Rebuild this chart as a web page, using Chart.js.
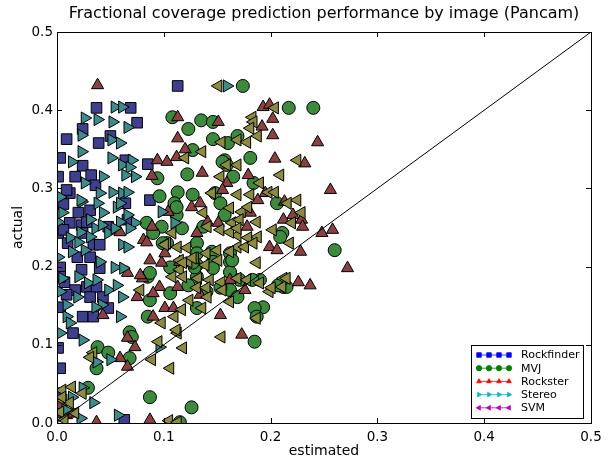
<!DOCTYPE html>
<html>
<head>
<meta charset="utf-8">
<script src="https://cdn.jsdelivr.net/npm/chart.js@4.4.0/dist/chart.umd.min.js"></script>
<style>
  html, body { margin: 0; padding: 0; background: #fff; }
  #wrap { width: 616px; height: 463px; }
</style>
</head>
<body>
<div id="wrap"><canvas id="scatter"></canvas></div>
<script>
// Chart text
const chartTitle = 'Fractional coverage prediction performance by image (Pancam)';
const xLabel = 'estimated';
const yLabel = 'actual';
const tickValues = [0.0, 0.1, 0.2, 0.3, 0.4, 0.5];

// Series names, in legend order
const seriesNames = ['Rockfinder', 'MVJ', 'Rockster', 'Stereo', 'SVM'];

// [estimated, actual] per image
const rockfinder = [
    [0.113, 0.431], [0.037, 0.403], [0.069, 0.403], [0.075, 0.384], [0.009, 0.363], [0.024, 0.376],
    [0.039, 0.358], [0.050, 0.367], [0.003, 0.339], [0.024, 0.329], [0.017, 0.315], [0.032, 0.317],
    [0.001, 0.315], [0.036, 0.304], [0.064, 0.336], [0.085, 0.331], [0.012, 0.294], [0.006, 0.280],
    [0.020, 0.269], [0.031, 0.272], [0.064, 0.281], [0.012, 0.256], [0.023, 0.253], [0.001, 0.243],
    [0.048, 0.251], [0.066, 0.260], [0.087, 0.285], [0.009, 0.298], [0.028, 0.257], [0.006, 0.247],
    [0.024, 0.243], [0.010, 0.230], [0.034, 0.228], [0.040, 0.228], [0.019, 0.212], [0.031, 0.212],
    [0.003, 0.199], [0.023, 0.196], [0.040, 0.198], [0.007, 0.180], [0.017, 0.170], [0.028, 0.174],
    [0.037, 0.174], [0.009, 0.164], [0.031, 0.161], [0.043, 0.161], [0.003, 0.187], [0.003, 0.148],
    [0.024, 0.136], [0.034, 0.136], [0.048, 0.147], [0.015, 0.115], [0.001, 0.096], [0.003, 0.070],
    [0.002, 0.038], [0.003, 0.014], [0.063, 0.004]
];
const mvj = [
    [0.108, 0.391], [0.135, 0.387], [0.123, 0.376], [0.146, 0.385], [0.146, 0.363], [0.160, 0.358],
    [0.169, 0.367], [0.181, 0.339], [0.157, 0.336], [0.159, 0.330], [0.122, 0.318], [0.165, 0.315],
    [0.184, 0.307], [0.217, 0.403], [0.240, 0.403], [0.113, 0.295], [0.096, 0.290], [0.127, 0.292],
    [0.148, 0.294], [0.110, 0.281], [0.153, 0.281], [0.112, 0.266], [0.157, 0.266], [0.206, 0.281],
    [0.098, 0.251], [0.137, 0.251], [0.211, 0.243], [0.090, 0.243], [0.127, 0.349], [0.094, 0.313],
    [0.084, 0.256], [0.117, 0.249], [0.155, 0.334], [0.085, 0.187], [0.103, 0.230], [0.131, 0.230],
    [0.131, 0.217], [0.131, 0.202], [0.131, 0.187], [0.145, 0.219], [0.146, 0.206], [0.162, 0.217],
    [0.162, 0.206], [0.162, 0.193], [0.162, 0.170], [0.153, 0.173], [0.123, 0.176], [0.140, 0.168],
    [0.112, 0.276], [0.209, 0.238], [0.212, 0.174], [0.190, 0.183], [0.183, 0.183], [0.171, 0.183],
    [0.193, 0.148], [0.087, 0.157], [0.106, 0.166], [0.164, 0.208], [0.146, 0.198], [0.129, 0.199],
    [0.131, 0.147], [0.169, 0.161], [0.185, 0.147], [0.187, 0.136], [0.207, 0.176], [0.215, 0.174],
    [0.260, 0.221], [0.185, 0.104], [0.126, 0.020], [0.115, 0.001], [0.087, 0.033], [0.099, 0.230],
    [0.106, 0.199], [0.127, 0.205], [0.085, 0.136], [0.068, 0.116], [0.070, 0.110], [0.038, 0.097],
    [0.048, 0.090], [0.068, 0.083], [0.037, 0.070], [0.029, 0.045], [0.087, 0.192], [0.174, 0.431]
];
const rockster = [
    [0.038, 0.432], [0.113, 0.391], [0.113, 0.364], [0.120, 0.350], [0.094, 0.336], [0.103, 0.334],
    [0.112, 0.340], [0.089, 0.316], [0.104, 0.270], [0.126, 0.276], [0.059, 0.244], [0.131, 0.243],
    [0.089, 0.251], [0.151, 0.385], [0.193, 0.404], [0.199, 0.407], [0.202, 0.389], [0.192, 0.379],
    [0.202, 0.368], [0.136, 0.320], [0.179, 0.317], [0.204, 0.338], [0.232, 0.332], [0.244, 0.359],
    [0.159, 0.307], [0.256, 0.298], [0.195, 0.294], [0.155, 0.298], [0.134, 0.281], [0.188, 0.285],
    [0.213, 0.283], [0.181, 0.269], [0.221, 0.266], [0.229, 0.260], [0.141, 0.257], [0.178, 0.251],
    [0.248, 0.243], [0.258, 0.247], [0.230, 0.251], [0.151, 0.256], [0.212, 0.260], [0.199, 0.225],
    [0.206, 0.221], [0.228, 0.219], [0.087, 0.208], [0.080, 0.185], [0.075, 0.161], [0.098, 0.205],
    [0.113, 0.174], [0.134, 0.164], [0.162, 0.183], [0.176, 0.170], [0.226, 0.180], [0.237, 0.176],
    [0.081, 0.234], [0.115, 0.206], [0.096, 0.174], [0.090, 0.166], [0.272, 0.198], [0.101, 0.147],
    [0.109, 0.147], [0.153, 0.138], [0.173, 0.113], [0.087, 0.004], [0.090, 0.136], [0.084, 0.231],
    [0.101, 0.217], [0.066, 0.192], [0.078, 0.189], [0.043, 0.138], [0.066, 0.109], [0.073, 0.097],
    [0.059, 0.083], [0.066, 0.072], [0.037, 0.001], [0.009, 0.010], [0.015, 0.012], [0.003, 0.023]
];
const stereo = [
    [0.054, 0.404], [0.061, 0.404], [0.026, 0.390], [0.038, 0.388], [0.052, 0.385], [0.066, 0.378],
    [0.023, 0.368], [0.051, 0.362], [0.059, 0.358], [0.023, 0.347], [0.014, 0.334], [0.051, 0.339],
    [0.070, 0.336], [0.061, 0.330], [0.068, 0.327], [0.073, 0.315], [0.064, 0.317], [0.043, 0.315],
    [0.026, 0.307], [0.003, 0.289], [0.040, 0.294], [0.052, 0.295], [0.061, 0.294], [0.066, 0.295],
    [0.023, 0.283], [0.038, 0.281], [0.043, 0.269], [0.056, 0.276], [0.066, 0.266], [0.031, 0.260],
    [0.036, 0.249], [0.048, 0.243], [0.059, 0.257], [0.073, 0.256], [0.005, 0.269], [0.098, 0.270],
    [0.110, 0.256], [0.022, 0.285], [0.059, 0.281], [0.001, 0.257], [0.022, 0.244], [0.042, 0.253],
    [0.054, 0.249], [0.068, 0.249], [0.012, 0.237], [0.020, 0.231], [0.031, 0.238], [0.061, 0.228],
    [0.066, 0.225], [0.001, 0.212], [0.014, 0.219], [0.026, 0.221], [0.040, 0.206], [0.054, 0.199],
    [0.062, 0.198], [0.005, 0.185], [0.020, 0.187], [0.029, 0.179], [0.037, 0.183], [0.048, 0.170],
    [0.056, 0.176], [0.003, 0.168], [0.019, 0.161], [0.042, 0.151], [0.061, 0.161], [0.009, 0.151],
    [0.036, 0.148], [0.009, 0.136], [0.012, 0.128], [0.059, 0.136], [0.003, 0.115], [0.024, 0.106],
    [0.037, 0.078], [0.050, 0.081], [0.024, 0.045], [0.034, 0.026], [0.057, 0.010], [0.014, 0.033],
    [0.096, 0.097], [0.159, 0.431], [0.008, 0.017], [0.022, 0.006]
];
const svm = [
    [0.151, 0.431], [0.204, 0.403], [0.183, 0.391], [0.184, 0.385], [0.181, 0.377], [0.188, 0.367],
    [0.154, 0.359], [0.169, 0.362], [0.178, 0.359], [0.136, 0.347], [0.120, 0.339], [0.225, 0.336],
    [0.159, 0.330], [0.169, 0.330], [0.153, 0.315], [0.209, 0.317], [0.190, 0.307], [0.198, 0.295],
    [0.204, 0.295], [0.145, 0.294], [0.169, 0.292], [0.181, 0.292], [0.225, 0.285], [0.216, 0.281],
    [0.137, 0.269], [0.162, 0.275], [0.173, 0.270], [0.187, 0.257], [0.229, 0.269], [0.220, 0.256],
    [0.141, 0.251], [0.153, 0.247], [0.164, 0.256], [0.202, 0.247], [0.108, 0.243], [0.169, 0.240],
    [0.171, 0.260], [0.179, 0.276], [0.162, 0.244], [0.169, 0.249], [0.188, 0.238], [0.179, 0.237],
    [0.169, 0.225], [0.176, 0.225], [0.184, 0.230], [0.218, 0.230], [0.103, 0.230], [0.113, 0.225],
    [0.122, 0.224], [0.150, 0.221], [0.140, 0.217], [0.162, 0.219], [0.115, 0.208], [0.123, 0.206],
    [0.129, 0.211], [0.151, 0.208], [0.139, 0.202], [0.187, 0.205], [0.115, 0.196], [0.108, 0.187],
    [0.118, 0.187], [0.132, 0.185], [0.143, 0.183], [0.154, 0.180], [0.169, 0.185], [0.178, 0.183],
    [0.212, 0.185], [0.078, 0.170], [0.131, 0.173], [0.140, 0.173], [0.155, 0.170], [0.199, 0.168],
    [0.124, 0.157], [0.162, 0.155], [0.141, 0.161], [0.136, 0.147], [0.117, 0.145], [0.110, 0.136],
    [0.098, 0.128], [0.113, 0.115], [0.154, 0.110], [0.118, 0.096], [0.095, 0.104], [0.089, 0.081],
    [0.106, 0.070], [0.105, 0.003], [0.113, 0.001], [0.187, 0.134], [0.201, 0.173], [0.211, 0.174],
    [0.215, 0.185], [0.190, 0.179], [0.101, 0.228], [0.118, 0.205], [0.127, 0.211], [0.112, 0.119],
    [0.034, 0.090], [0.031, 0.084], [0.005, 0.042], [0.014, 0.046], [0.024, 0.038], [0.006, 0.029],
    [0.012, 0.026], [0.003, 0.014], [0.007, 0.004], [0.017, 0.013], [0.005, 0.033]
];

// the y = x reference line
const diagonal = [[0.0, 0.0], [0.5, 0.5]];

const seriesData = [rockfinder, mvj, rockster, stereo, svm];
const markerColors = ['#3f3f8f', '#3c8a3c', '#8c4040', '#3c8c8c', '#8c8c40'];
const legendColors = ['#0000ff', '#008000', '#ff0000', '#00bfbf', '#bf00bf'];
const markerStyles = ['rect', 'circle', 'triangle', 'triangle', 'triangle'];
const markerRotation = [0, 0, 0, 90, -90];
const markerRadius = [7.5, 6.5, 7, 7, 7];

const toPoints = arr => arr.map(p => ({ x: p[0], y: p[1] }));

const datasets = seriesNames.map((name, i) => ({
    label: name,
    data: toPoints(seriesData[i]),
    pointStyle: markerStyles[i],
    rotation: markerRotation[i],
    pointRadius: markerRadius[i],
    pointHoverRadius: markerRadius[i],
    backgroundColor: markerColors[i],
    borderColor: '#000000',
    pointBorderWidth: 1,
    showLine: false,
    clip: 0,
    order: seriesNames.length - i
}));

datasets.push({
    type: 'line',
    label: 'y=x',
    data: toPoints(diagonal),
    borderColor: '#000000',
    borderWidth: 1,
    pointRadius: 0,
    fill: false,
    clip: 0,
    order: 0
});

// title centred over the plot area, as matplotlib does
const plotTitle = {
    id: 'plotTitle',
    afterDraw(chart) {
        const { ctx, chartArea: a } = chart;
        ctx.save();
        ctx.fillStyle = '#000';
        ctx.font = '16px "DejaVu Sans"';
        ctx.textAlign = 'center';
        ctx.textBaseline = 'middle';
        ctx.fillText(chartTitle, (a.left + a.right) / 2, 14);
        ctx.restore();
    }
};

// inward tick marks on all four sides, plus the frame
const frameTicks = {
    id: 'frameTicks',
    afterDatasetsDraw(chart) {
        const { ctx, chartArea: a, scales } = chart;
        ctx.save();
        ctx.strokeStyle = '#000';
        ctx.lineWidth = 1;
        ctx.strokeRect(a.left + 0.5, a.top + 0.5, a.right - a.left, a.bottom - a.top);
        ctx.beginPath();
        tickValues.forEach(v => {
            const x = Math.round(scales.x.getPixelForValue(v)) + 0.5;
            ctx.moveTo(x, a.bottom); ctx.lineTo(x, a.bottom - 5);
            ctx.moveTo(x, a.top); ctx.lineTo(x, a.top + 5);
            const y = Math.round(scales.y.getPixelForValue(v)) + 0.5;
            ctx.moveTo(a.left, y); ctx.lineTo(a.left + 5, y);
            ctx.moveTo(a.right, y); ctx.lineTo(a.right - 5, y);
        });
        ctx.stroke();
        ctx.restore();
    }
};

// matplotlib-like legend box: four small markers joined by a line
const markerLegend = {
    id: 'markerLegend',
    afterDraw(chart) {
        const { ctx, chartArea: a } = chart;
        const boxW = 112, boxH = 73, rowH = 13.2;
        const bx = a.right - 8 - boxW, by = a.bottom - 5 - boxH;
        ctx.save();
        ctx.fillStyle = '#fff';
        ctx.fillRect(bx, by, boxW, boxH);
        ctx.strokeStyle = '#000';
        ctx.lineWidth = 1;
        ctx.strokeRect(bx + 0.5, by + 0.5, boxW, boxH);
        ctx.font = '11px "DejaVu Sans"';
        ctx.textBaseline = 'middle';
        seriesNames.forEach((name, i) => {
            const y = by + 10 + i * rowH;
            const x0 = bx + 8, x1 = bx + 38;
            ctx.strokeStyle = legendColors[i];
            ctx.fillStyle = legendColors[i];
            ctx.lineWidth = 0.8;
            ctx.beginPath();
            ctx.moveTo(x0, y); ctx.lineTo(x1, y);
            ctx.stroke();
            for (let k = 0; k < 4; k++) {
                ctx.fillStyle = legendColors[i];
                ctx.strokeStyle = legendColors[i];
                Chart.helpers.drawPoint(ctx, {
                    pointStyle: markerStyles[i],
                    rotation: markerRotation[i],
                    radius: markerStyles[i] === 'rect' ? 3.2 : 2.7,
                    borderWidth: 0.5
                }, x0 + k * (x1 - x0) / 3, y);
            }
            ctx.fillStyle = '#000';
            ctx.fillText(name, bx + 50, y + 0.5);
        });
        ctx.restore();
    }
};

new Chart(document.getElementById('scatter'), {
    type: 'scatter',
    data: { datasets: datasets },
    options: {
        responsive: true,
        maintainAspectRatio: false,
        animation: false,
        events: [],
        layout: { padding: { left: 0, right: 25, top: 32, bottom: 0 } },
        plugins: {
            legend: { display: false },
            tooltip: { enabled: false },
            title: { display: false }
        },
        scales: {
            x: {
                type: 'linear',
                min: 0,
                max: 0.5,
                afterFit: s => { s.height = 40; },
                afterBuildTicks: s => { s.ticks = tickValues.map(v => ({ value: v })); },
                grid: { display: false, drawTicks: false },
                border: { display: false },
                ticks: {
                    color: '#000',
                    padding: 6,
                    maxRotation: 0,
                    font: { family: 'DejaVu Sans', size: 13.5 },
                    callback: v => v.toFixed(1)
                },
                title: {
                    display: true,
                    text: xLabel,
                    color: '#000',
                    font: { family: 'DejaVu Sans', size: 14 },
                    padding: { top: 0, bottom: 3 }
                }
            },
            y: {
                type: 'linear',
                min: 0,
                max: 0.5,
                afterFit: s => { s.width = 57; },
                afterBuildTicks: s => { s.ticks = tickValues.map(v => ({ value: v })); },
                grid: { display: false, drawTicks: false },
                border: { display: false },
                ticks: {
                    color: '#000',
                    padding: 4,
                    font: { family: 'DejaVu Sans', size: 13.5 },
                    callback: v => v.toFixed(1)
                },
                title: {
                    display: true,
                    text: yLabel,
                    color: '#000',
                    font: { family: 'DejaVu Sans', size: 14 },
                    padding: { top: 10, bottom: 0 }
                }
            }
        }
    },
    plugins: [frameTicks, markerLegend, plotTitle]
});
</script>
</body>
</html>
